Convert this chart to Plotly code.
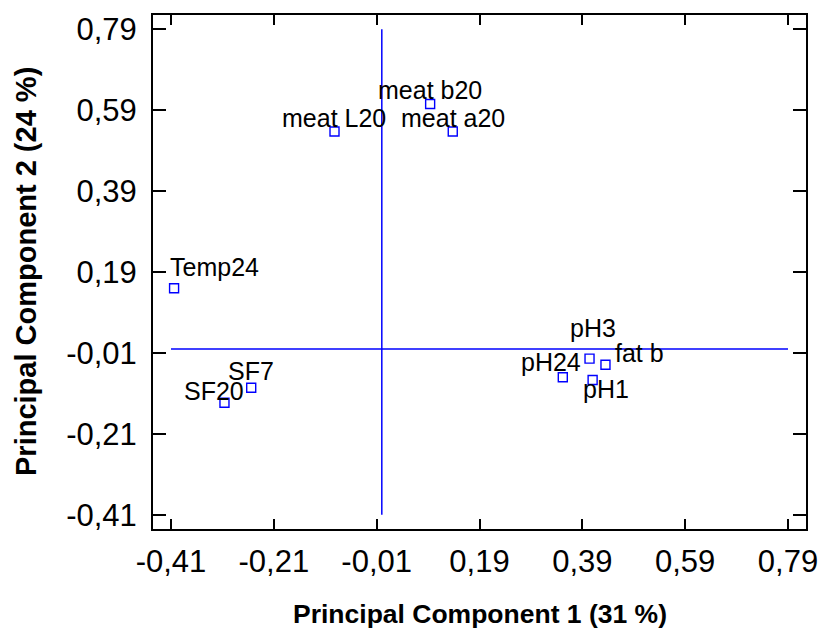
import plotly.graph_objects as go

# Variable loadings on the first two principal components
variables = ["Temp24", "meat L20", "meat b20", "meat a20", "SF7", "SF20",
             "pH24", "pH3", "fat b", "pH1"]
pc1 = [-0.404, -0.092, 0.094, 0.138, -0.254, -0.306, 0.352, 0.404, 0.435, 0.410]
pc2 = [0.150, 0.537, 0.605, 0.537, -0.096, -0.133, -0.070, -0.024, -0.039, -0.077]

# Axis ticks (decimal comma)
tick_vals = [-0.41, -0.21, -0.01, 0.19, 0.39, 0.59, 0.79]
tick_text = ["-0,41", "-0,21", "-0,01", "0,19", "0,39", "0,59", "0,79"]

x_title = "Principal Component 1 (31 %)"
y_title = "Principal Component 2 (24 %)"

# Label placement relative to each marker, in pixels (dx right, dy down)
label_offsets = {
    "Temp24": (40, -21),
    "meat L20": (-1, -14),
    "meat b20": (0, -14),
    "meat a20": (0, -14),
    "SF7": (0, -17),
    "SF20": (-10, -12),
    "pH24": (-12, -15),
    "pH3": (3, -31),
    "fat b": (34, -12),
    "pH1": (13, 9),
}

FONT = "Arial, 'Liberation Sans', sans-serif"
BLUE = "#0000FF"
AX_RANGE = [-0.445, 0.825]

fig = go.Figure()

fig.add_trace(go.Scatter(
    x=pc1, y=pc2, mode="markers",
    marker=dict(symbol="square-open", size=9, color=BLUE,
                line=dict(color=BLUE, width=1.4)),
    hovertext=variables, hoverinfo="text",
    showlegend=False,
))

# Cross-hair lines through the origin
fig.add_shape(type="line", xref="x", yref="y",
              x0=tick_vals[0], x1=tick_vals[-1], y0=0, y1=0,
              line=dict(color=BLUE, width=1.5), layer="below")
fig.add_shape(type="line", xref="x", yref="y",
              x0=0, x1=0, y0=tick_vals[0], y1=tick_vals[-1],
              line=dict(color=BLUE, width=1.5), layer="below")

# Variable labels
for name, xv, yv in zip(variables, pc1, pc2):
    dx, dy = label_offsets[name]
    fig.add_annotation(
        x=xv, y=yv, xref="x", yref="y", text=name, showarrow=False,
        xanchor="center", yanchor="middle", xshift=dx, yshift=-dy,
        font=dict(family=FONT, size=25, color="black"),
    )

# Axis titles
fig.add_annotation(
    x=0.5, y=0, xref="paper", yref="paper", text=f"<b>{x_title}</b>",
    showarrow=False, xanchor="center", yanchor="middle", yshift=-85,
    font=dict(family=FONT, size=26.5, color="black"),
)
fig.add_annotation(
    x=0, y=0.5, xref="paper", yref="paper", text=f"<b>{y_title}</b>",
    showarrow=False, xanchor="center", yanchor="middle", xshift=-127,
    textangle=-90, font=dict(family=FONT, size=29, color="black"),
)

axis_common = dict(
    range=AX_RANGE, tickmode="array", tickvals=tick_vals, ticktext=tick_text,
    showgrid=False, zeroline=False, showline=True, linecolor="black",
    linewidth=2, mirror="ticks", ticks="inside", tickwidth=2,
    tickcolor="black", tickfont=dict(family=FONT, size=31, color="black"),
    automargin=False,
)

fig.update_xaxes(**axis_common, ticklen=10, ticklabelstandoff=4)
fig.update_yaxes(**axis_common, ticklen=13, ticklabelstandoff=8)

fig.update_layout(
    width=820, height=633,
    margin=dict(l=153, r=14, t=15, b=104),
    plot_bgcolor="white", paper_bgcolor="white",
    font=dict(family=FONT),
)

fig.write_html("out.html")
